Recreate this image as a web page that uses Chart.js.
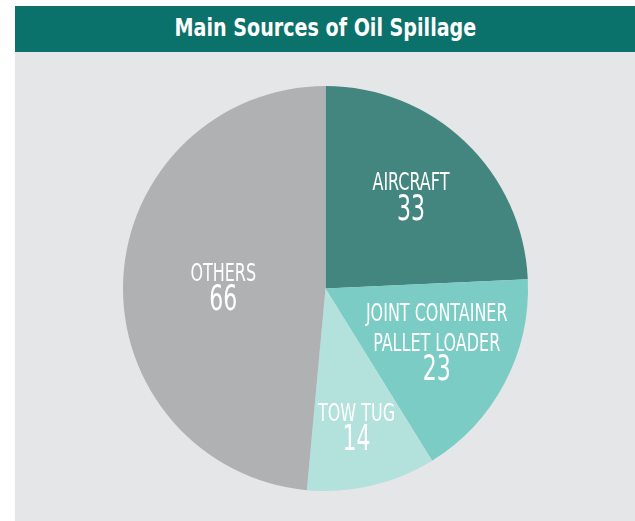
<!DOCTYPE html>
<html>
<head>
<meta charset="utf-8">
<script src="https://cdn.jsdelivr.net/npm/chart.js@4.4.1/dist/chart.umd.min.js"></script>
<style>
    html, body { margin: 0; padding: 0; background: #ffffff; }
    #header {
        position: absolute; left: 15px; top: 6px; width: 620px; height: 46px;
        background: #0b716b; color: #ffffff;
        font-family: "DejaVu Sans Condensed", "Liberation Sans Narrow", sans-serif;
        font-weight: bold; font-size: 24px; line-height: 44px; text-align: center;
    }
    #header span { display: inline-block; transform: scaleX(0.885); }
    #panel {
        position: absolute; left: 15px; top: 52px; width: 620px; height: 469px;
        background: #e5e6e8;
    }
</style>
</head>
<body>
<div id="header"><span>Main Sources of Oil Spillage</span></div>
<div id="panel"><canvas id="oilChart"></canvas></div>
<script>
const categories = [["AIRCRAFT"], ["JOINT CONTAINER", "PALLET LOADER"], ["TOW TUG"], ["OTHERS"]];
const spillCounts = [33, 23, 14, 66];
const sliceColors = ["#43857f", "#7bccc5", "#b3e1dc", "#afb1b3"];
// label block placement: fraction of radius, and a small angle nudge in degrees
const labelRadius = [0.62, 0.61, 0.70, 0.505];
const labelNudge = [-0.8, -2, 0.6, -1.8];

const sliceLabels = {
    id: 'sliceLabels',
    afterDatasetsDraw(chart) {
        const ctx = chart.ctx;
        const arcs = chart.getDatasetMeta(0).data;
        arcs.forEach((arc, i) => {
            const p = arc.getProps(['x', 'y', 'startAngle', 'endAngle', 'outerRadius'], true);
            const mid = (p.startAngle + p.endAngle) / 2 + labelNudge[i] * Math.PI / 180;
            const cx = p.x + Math.cos(mid) * p.outerRadius * labelRadius[i];
            const cy = p.y + Math.sin(mid) * p.outerRadius * labelRadius[i];

            const names = categories[i];
            const nameCap = 17, numCap = 26;
            const blockH = (names.length - 1) * 29.5 + 25 + nameCap / 2 + numCap / 2;
            const top = cy - blockH / 2;

            ctx.save();
            ctx.fillStyle = '#ffffff';
            ctx.textAlign = 'center';
            ctx.textBaseline = 'alphabetic';
            names.forEach((name, k) => {
                const base = top + nameCap + k * 29.5;
                ctx.save();
                ctx.translate(cx, base);
                ctx.scale(0.74, 1);
                ctx.font = '24px "DejaVu Sans Condensed", "Liberation Sans Narrow", sans-serif';
                ctx.fillText(name, 0, 0);
                ctx.restore();
            });
            const numBase = top + nameCap / 2 + (names.length - 1) * 29.5 + 25 + numCap / 2;
            ctx.translate(cx, numBase);
            ctx.scale(0.68, 1);
            ctx.font = '36px "DejaVu Sans Condensed", "Liberation Sans Narrow", sans-serif';
            ctx.fillText(String(spillCounts[i]), 0, 0);
            ctx.restore();
        });
    }
};

new Chart(document.getElementById('oilChart'), {
    type: 'pie',
    data: {
        labels: categories.map(c => c.join(' ')),
        datasets: [{
            data: spillCounts,
            backgroundColor: sliceColors,
            borderWidth: 0
        }]
    },
    options: {
        responsive: true,
        maintainAspectRatio: false,
        animation: false,
        layout: { padding: { top: 34, bottom: 30, left: 108, right: 107 } },
        plugins: {
            legend: { display: false },
            tooltip: { enabled: false }
        }
    },
    plugins: [sliceLabels]
});
</script>
</body>
</html>
